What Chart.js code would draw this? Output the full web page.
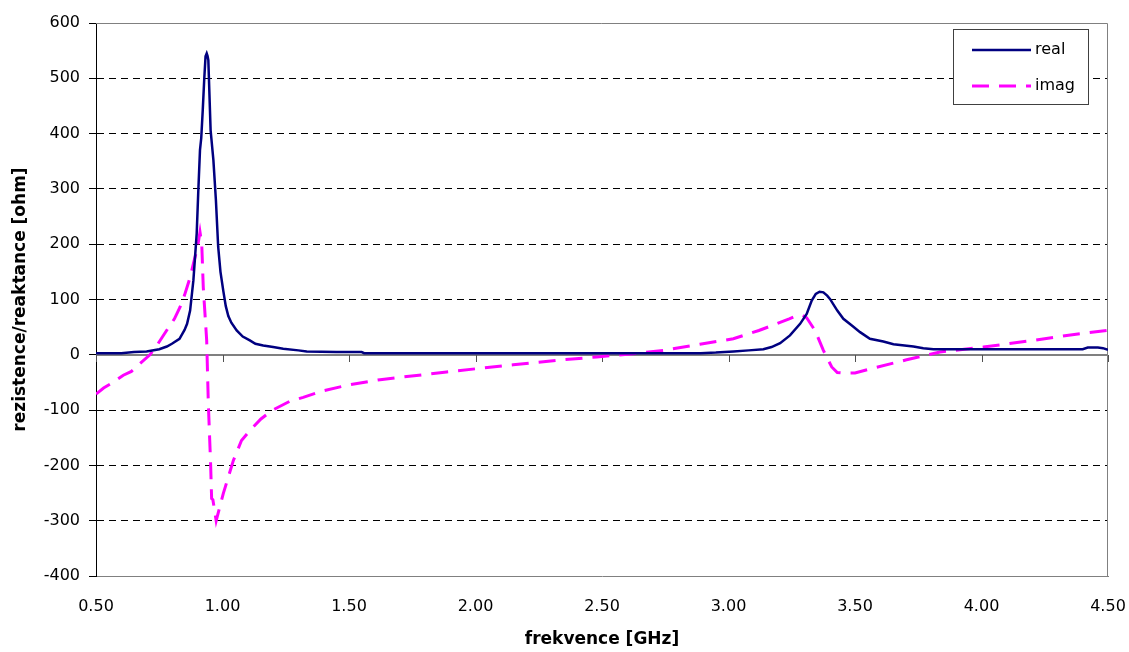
<!DOCTYPE html>
<html>
<head>
<meta charset="utf-8">
<script src="https://cdn.jsdelivr.net/npm/chart.js@4.4.1/dist/chart.umd.min.js"></script>
<style>
  html, body { margin: 0; padding: 0; background: #ffffff; }
  #wrap { width: 1129px; height: 652px; }
</style>
</head>
<body>
<div id="wrap"><canvas id="c" width="1129" height="652"></canvas></div>
<script>
// ---- data ----
const seriesNames = ['real', 'imag'];
const xTitle = 'frekvence [GHz]';
const yTitle = 'rezistence/reaktance [ohm]';

const freqReal = [0.50, 0.60, 0.65, 0.70, 0.75, 0.78, 0.80, 0.83, 0.85, 0.86, 0.872, 0.885, 0.898, 0.904, 0.911, 0.916,
  0.922, 0.928, 0.933, 0.9375, 0.941, 0.944, 0.953, 0.964, 0.974, 0.983, 0.992, 1.003, 1.013, 1.023, 1.035, 1.056,
  1.08, 1.108, 1.13, 1.161, 1.20, 1.24, 1.30, 1.333, 1.45, 1.55, 1.56, 2.00, 2.50, 2.80, 2.89, 2.95, 3.02, 3.08,
  3.138, 3.17, 3.204, 3.243, 3.283, 3.309, 3.329, 3.345, 3.36, 3.375, 3.39, 3.401, 3.43, 3.454, 3.49, 3.52, 3.559,
  3.612, 3.652, 3.731, 3.77, 3.81, 4.00, 4.20, 4.40, 4.42, 4.46, 4.48, 4.50];
const realValues = [3, 3, 5, 6, 10, 15, 20, 29, 45, 56, 80, 135, 219, 292, 370, 392,
  443, 500, 540, 545, 540, 533, 406, 352, 279, 195, 150, 116, 88, 70, 58, 44,
  33, 26, 20, 17, 14, 11, 8, 6, 5, 5, 3, 3, 3, 3, 3, 4, 6, 8,
  10, 14, 21, 35, 56, 74, 98, 110, 114, 113, 107, 101, 80, 65, 52, 41, 29,
  24, 19, 15, 12, 10, 10, 10, 10, 13, 13, 12, 9];

const freqImag = [0.50, 0.53, 0.56, 0.608, 0.64, 0.674, 0.713, 0.745, 0.779, 0.81, 0.832, 0.85, 0.872, 0.885, 0.898,
  0.905, 0.911, 0.918, 0.924, 0.9375, 0.944, 0.953, 0.957, 0.962, 0.975, 1.003, 1.043, 1.075, 1.108, 1.152, 1.194,
  1.266, 1.319, 1.398, 1.504, 1.623, 1.886, 2.149, 2.347, 2.479, 2.624, 2.742, 2.887, 2.94, 3.019, 3.059, 3.12,
  3.19, 3.24, 3.27, 3.29, 3.309, 3.342, 3.375, 3.408, 3.43, 3.45, 3.50, 3.573, 3.704, 3.836, 4.007, 4.205, 4.337, 4.495];
const imagValues = [-71, -60, -52, -37, -30, -16, 0, 20, 44, 65, 86, 108, 140, 165, 189,
  205, 222, 200, 122, 26, -88, -197, -260, -262, -300, -251, -191, -155, -137, -116, -101,
  -84, -77, -65, -54, -45, -31, -18, -9, -4, 2, 8, 19, 23, 29, 35, 44,
  56, 65, 71, 72, 67, 44, 8, -22, -32, -33, -33, -24, -9, 5, 14, 26, 35, 44];

const xMin = 0.5, xMax = 4.5, xStep = 0.5;
const yMin = -400, yMax = 600, yStep = 100;

// ---- build datasets ----
const toPoints = (xs, ys) => xs.map((x, i) => ({ x: x, y: ys[i] }));

const FONT = "'DejaVu Sans', sans-serif";

const framePlugin = {
  id: 'frame',
  beforeDatasetsDraw(chart) {
    const { ctx, chartArea: a, scales } = chart;
    const x = scales.x, y = scales.y;
    ctx.save();
    ctx.setLineDash([]);
    ctx.strokeStyle = '#808080';
    ctx.lineWidth = 1;
    ctx.beginPath();
    ctx.moveTo(a.left, a.top + 0.5);
    ctx.lineTo(a.right - 0.5, a.top + 0.5);
    ctx.lineTo(a.right - 0.5, a.bottom);
    ctx.stroke();
    const y0 = Math.round(y.getPixelForValue(0));
    ctx.lineWidth = 2;
    ctx.beginPath();
    ctx.moveTo(a.left, y0);
    ctx.lineTo(a.right, y0);
    ctx.stroke();
    ctx.lineWidth = 1;
    ctx.strokeStyle = '#505050';
    x.ticks.forEach(t => {
      const px = Math.round(x.getPixelForValue(t.value)) + 0.5;
      ctx.beginPath();
      ctx.moveTo(px, y0);
      ctx.lineTo(px, y0 + 7);
      ctx.stroke();
    });
    ctx.restore();
  },
  afterDraw(chart) {
    const { ctx, chartArea: a } = chart;
    const w = 135, h = 75;
    const bx = a.right - 20 - w, by = a.top + 6;
    ctx.save();
    ctx.fillStyle = '#ffffff';
    ctx.fillRect(bx, by, w, h);
    ctx.strokeStyle = '#404040';
    ctx.lineWidth = 1;
    ctx.setLineDash([]);
    ctx.strokeRect(bx + 0.5, by + 0.5, w, h);
    chart.data.datasets.forEach((ds, i) => {
      const ly = by + 21 + i * 36;
      ctx.strokeStyle = ds.borderColor;
      ctx.lineWidth = ds.borderWidth;
      ctx.setLineDash(ds.borderDash || []);
      ctx.beginPath();
      ctx.moveTo(bx + 19, ly);
      ctx.lineTo(bx + 78, ly);
      ctx.stroke();
      ctx.setLineDash([]);
      ctx.fillStyle = '#000';
      ctx.font = '16px ' + FONT;
      ctx.textBaseline = 'middle';
      ctx.textAlign = 'left';
      ctx.fillText(ds.label, bx + 82, ly);
    });
    ctx.restore();
  }
};

const bgPlugin = {
  id: 'bg',
  beforeDraw(chart) {
    const { ctx } = chart;
    ctx.save();
    ctx.fillStyle = '#ffffff';
    ctx.fillRect(0, 0, chart.width, chart.height);
    ctx.restore();
  }
};

const edgeTicks = (v) => v === yMin || v === yMax || v === 0;

new Chart(document.getElementById('c'), {
  type: 'line',
  data: {
    datasets: [
      {
        label: seriesNames[0],
        data: toPoints(freqReal, realValues),
        borderColor: '#000080',
        borderWidth: 2.5,
        pointRadius: 0,
        tension: 0,
        fill: false
      },
      {
        label: seriesNames[1],
        data: toPoints(freqImag, imagValues),
        borderColor: '#ff00ff',
        borderWidth: 3,
        borderDash: [17, 10],
        pointRadius: 0,
        tension: 0,
        fill: false
      }
    ]
  },
  options: {
    responsive: false,
    animation: false,
    devicePixelRatio: 1,
    layout: { padding: { left: 6, right: 21, top: 23, bottom: 0 } },
    plugins: { legend: { display: false }, tooltip: { enabled: false } },
    scales: {
      x: {
        type: 'linear',
        min: xMin, max: xMax,
        ticks: {
          stepSize: xStep,
          callback: v => Number(v).toFixed(2),
          color: '#000',
          font: { family: FONT, size: 16 },
          padding: 21,
          maxRotation: 0,
          autoSkip: false
        },
        grid: { drawOnChartArea: false, drawTicks: false },
        border: { display: true, color: '#808080', width: 1 },
        title: {
          display: true, text: xTitle, color: '#000',
          font: { family: FONT, size: 17, weight: 'bold' },
          padding: { top: 0, bottom: 2 }
        },
        afterFit(scale) { scale.height = 76; scale.paddingRight = 0; scale.paddingLeft = 0; }
      },
      y: {
        min: yMin, max: yMax,
        ticks: {
          stepSize: yStep,
          color: '#000',
          font: { family: FONT, size: 16 },
          padding: 9
        },
        grid: {
          color: ctx => (ctx.tick && edgeTicks(ctx.tick.value)) ? 'rgba(0,0,0,0)' : '#000000',
          lineWidth: 1,
          tickLength: 7,
          tickColor: '#000000',
          tickBorderDash: [],
          drawTicks: true
        },
        border: { display: true, color: '#000000', width: 1, dash: [7, 5] },
        title: {
          display: true, text: yTitle, color: '#000',
          font: { family: FONT, size: 17, weight: 'bold' },
          padding: { top: 4, bottom: 0 }
        },
        afterFit(scale) { scale.width = 90; scale.paddingTop = 0; scale.paddingBottom = 0; }
      }
    }
  },
  plugins: [bgPlugin, framePlugin]
});
</script>
</body>
</html>
